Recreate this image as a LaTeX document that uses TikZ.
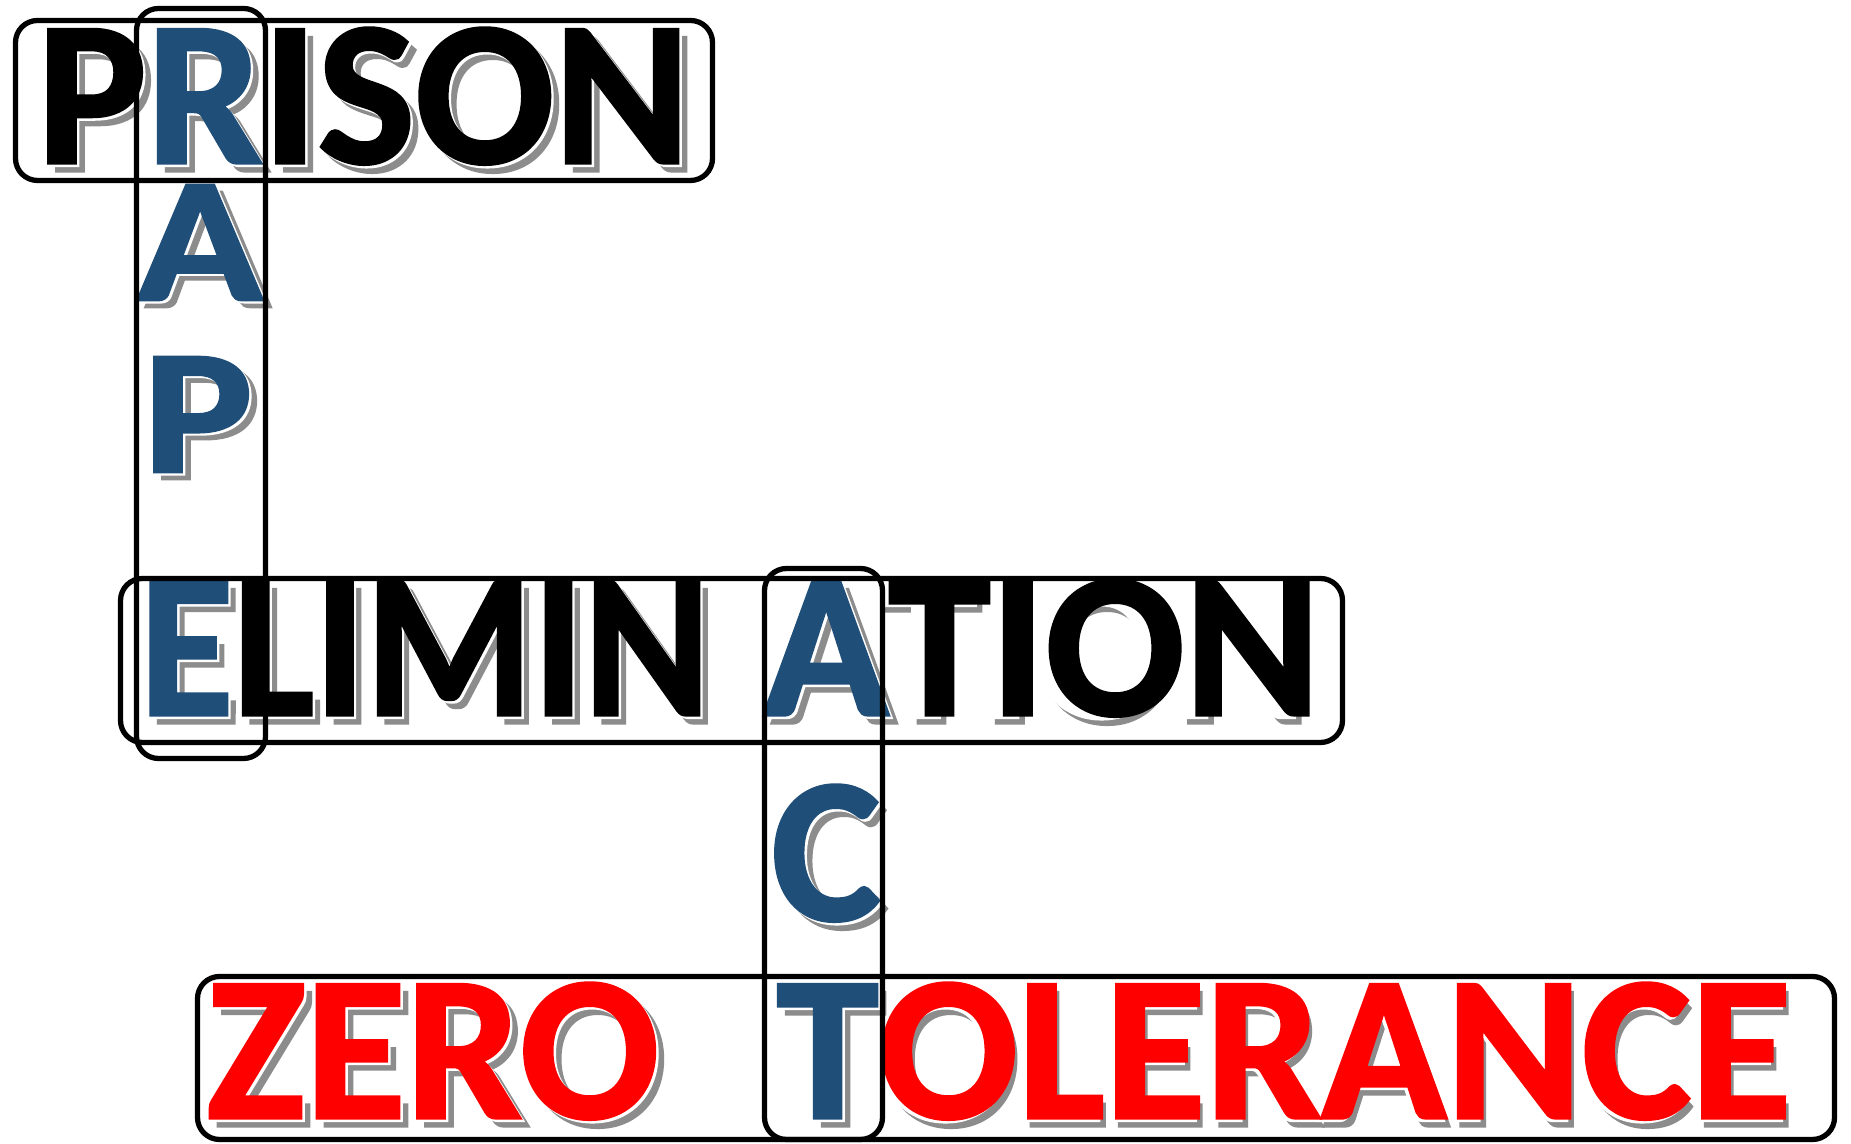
\documentclass[tikz,border=0pt]{standalone}
\usepackage{fontspec}
\setmainfont{Carlito}[BoldFeatures={FakeBold=1.6}]
\usepackage{tikz}
\definecolor{keyblue}{HTML}{1F4E79}
\definecolor{zerored}{HTML}{FF0000}
\definecolor{shadegray}{HTML}{8C8C8C}
\newcommand\keyletter[1]{\textcolor{keyblue}{#1}}
\newcommand\shadowword[1]{%
  \rlap{\kern0.08cm\raisebox{-0.08cm}{\color{shadegray}\let\keyletter\relax#1}}%
  \rlap{\kern0.025cm\raisebox{-0.025cm}{\color{white}\let\keyletter\relax#1}}%
  #1}
\tikzset{
  wordbox/.style={draw, line width=1.5pt, rounded corners=0.22cm, inner sep=0pt},
  bigword/.style={inner sep=0pt, anchor=base, font=\fontsize{58.6}{60}\selectfont\bfseries},
  squashed/.style={bigword, text=keyblue, yscale=0.86, transform shape}
}

\begin{document}
\begin{tikzpicture}
        \path[use as bounding box, fill=white] (0,0) rectangle (18.51,11.44);
        \node[bigword] (prison) at (3.635,9.81) {\shadowword{P\keyletter{R}ISON}};
        \node[bigword, xscale=0.93, transform shape] (elimin) at (4.25,4.29) {\shadowword{\keyletter{E}LIMIN}};
        \node[bigword] (ation) at (10.42,4.29) {\shadowword{\keyletter{A}TION}};
        \node[bigword, text=zerored] (zero) at (4.33,0.26) {\shadowword{ZERO}};
        \node[bigword, text=zerored] (tolerance) at (12.84,0.26) {\shadowword{\keyletter{T}OLERANCE}};
        \node[squashed] (rapeA) at (2.00,8.44) {\shadowword{A}};
        \node[squashed] (rapeP) at (1.98,6.72) {\shadowword{P}};
        \node[bigword, text=keyblue] (actC) at (8.26,2.24) {\shadowword{C}};
        \node[wordbox, minimum width=6.97cm, minimum height=1.60cm] (prisonbox) at (3.64,10.435) {};
        \node[wordbox, minimum width=12.22cm, minimum height=1.64cm] (elimbox) at (7.315,4.835) {};
        \node[wordbox, minimum width=16.37cm, minimum height=1.63cm] (zerobox) at (10.16,0.86) {};
        \node[wordbox, minimum width=1.29cm, minimum height=7.50cm] (rapebox) at (2.01,7.605) {};
        \node[wordbox, minimum width=1.18cm, minimum height=5.71cm] (actbox) at (8.235,2.90) {};
      \end{tikzpicture}
\end{document}
